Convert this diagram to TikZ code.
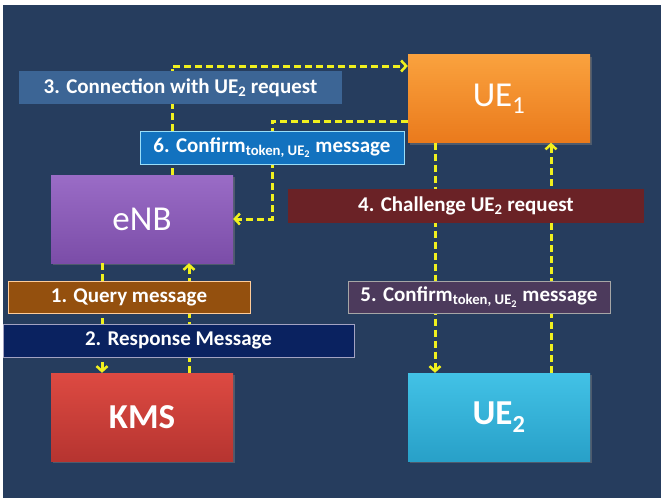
\documentclass[tikz,border=0pt]{standalone}
\usepackage{fontspec}
\setmainfont{Carlito}
\usetikzlibrary{arrows.meta,shadows}
\definecolor{backnavy}{RGB}{38,61,94}
\definecolor{msgyellow}{RGB}{240,240,30}
\definecolor{steel}{RGB}{60,101,149}
\definecolor{confblue}{RGB}{18,114,191}
\definecolor{chalred}{RGB}{106,34,38}
\definecolor{querybrown}{RGB}{148,80,14}
\definecolor{respnavy}{RGB}{10,34,96}
\definecolor{confplum}{RGB}{76,58,92}

\begin{document}
\begin{tikzpicture}[x=1pt,y=-1pt,
    unit/.style={minimum width=182pt,minimum height=88pt,inner sep=0pt,text=white,
        font=\fontsize{35}{35}\selectfont,
        drop shadow={opacity=0.45,shadow xshift=2pt,shadow yshift=-2pt}},
    lbl/.style={minimum height=33pt,inner sep=0pt,text=white,
        font=\bfseries\fontsize{21}{21}\selectfont},
    msg/.style={draw=msgyellow,line width=3pt,dash pattern=on 7pt off 4pt,
        -{Straight Barb[length=5pt,width=11pt,line width=2.5pt]}}]
    \useasboundingbox (0,0) rectangle (665,498);
    \fill[backnavy] (3,5) rectangle (661,498);

    % entities
    \node[unit,top color={rgb,255:red,250;green,162;blue,62},bottom color={rgb,255:red,234;green,122;blue,28}] (ue1) at (499,98.5) {UE\textsubscript{1}};
    \node[unit,top color={rgb,255:red,154;green,108;blue,198},bottom color={rgb,255:red,123;green,77;blue,168}] (enb) at (142,219) {eNB};
    \node[unit,font=\bfseries\fontsize{35}{35}\selectfont,top color={rgb,255:red,221;green,74;blue,66},bottom color={rgb,255:red,182;green,52;blue,48}] (kms) at (142,417) {KMS};
    \node[unit,font=\bfseries\fontsize{35}{35}\selectfont,top color={rgb,255:red,66;green,194;blue,230},bottom color={rgb,255:red,40;green,160;blue,200}] (ue2) at (499,417) {UE\textsubscript{2}};

    % messages
    \coordinate (turn6) at (272,219);
    \draw[msg] ([xshift=-40pt]enb.south) -- ([xshift=-40pt]kms.north);
    \draw[msg] ([xshift=47pt]kms.north) -- ([xshift=47pt]enb.south);
    \draw[msg] ([xshift=30pt]enb.north) |- ([yshift=32.5pt]ue1.west);
    \draw[msg] ([xshift=-64pt]ue1.south) -- ([xshift=-64pt]ue2.north);
    \draw[msg] ([xshift=52pt]ue2.north) -- ([xshift=52pt]ue1.south);
    \draw[msg] ([yshift=-22.5pt]ue1.west) -| (turn6) -- (enb.east);

    % labels
    \node[lbl,fill=steel,minimum width=323pt] (l3) at (180.5,87.5) {3. Connection with UE\textsubscript{2} request};
    \node[lbl,fill=confblue,draw=cyan!40!white,minimum width=264pt] (l6) at (272,147.5) {6. Confirm\textsubscript{token, UE\textsubscript{2}} message};
    \node[lbl,fill=chalred,minimum width=356pt,minimum height=34pt] (l4) at (466,206) {4. Challenge UE\textsubscript{2} request};
    \node[lbl,fill=querybrown,draw=orange!40!white,minimum width=242pt,minimum height=32pt] (l1) at (129,297) {1. Query message};
    \node[lbl,fill=confplum,draw=gray!70!white,minimum width=262pt,minimum height=32pt] (l5) at (479,297) {5. Confirm\textsubscript{token, UE\textsubscript{2}} message};
    \node[lbl,fill=respnavy,draw=blue!20!gray!60!white,minimum width=351pt] (l2) at (178.5,340.5) {2. Response Message};
\end{tikzpicture}
\end{document}
